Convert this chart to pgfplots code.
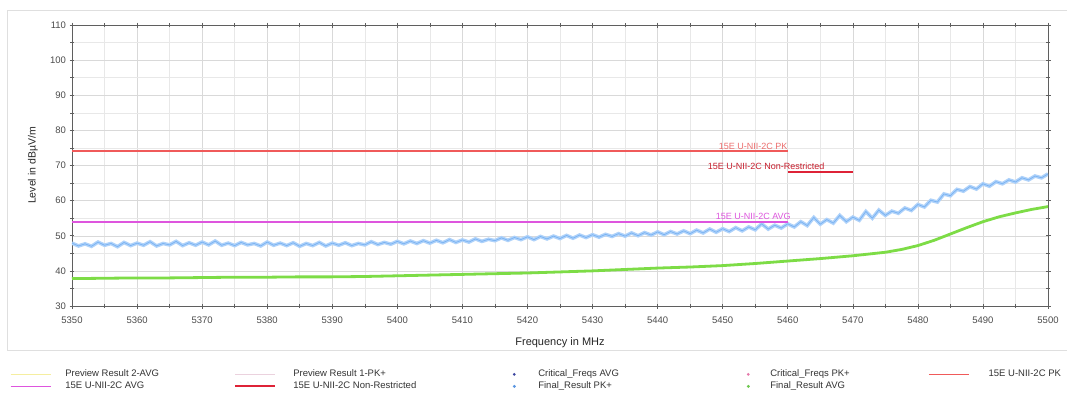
\documentclass[border=0pt]{standalone}
\usepackage{fontspec}
\setmainfont{Liberation Sans}
\usepackage{pgfplots}
\pgfplotsset{compat=1.18}
\definecolor{pkred}{RGB}{240,90,90}
\definecolor{pktext}{RGB}{236,110,110}
\definecolor{nrred}{RGB}{222,35,55}
\definecolor{nrtext}{RGB}{200,30,45}
\definecolor{avgmag}{RGB}{222,85,222}
\definecolor{pkblue}{RGB}{120,178,242}
\definecolor{pkbluel}{RGB}{175,210,250}
\definecolor{avggreen}{RGB}{125,220,70}
\definecolor{pvyellow}{RGB}{245,238,160}
\definecolor{pvpink}{RGB}{235,210,222}
\definecolor{critblue}{RGB}{60,70,160}
\definecolor{critpink}{RGB}{230,120,170}
\definecolor{dotblue}{RGB}{90,150,225}
\definecolor{dotgreen}{RGB}{110,200,80}
\definecolor{axgray}{RGB}{95,95,95}

\pgfplotstableread{
x y
5350 47.9
5351 47.1
5352 47.7
5353 47.0
5354 48.2
5355 47.3
5356 47.8
5357 46.9
5358 48.1
5359 47.2
5360 47.9
5361 47.3
5362 48.3
5363 47.1
5364 47.8
5365 47.4
5366 48.4
5367 47.2
5368 48.0
5369 47.3
5370 48.2
5371 47.4
5372 48.5
5373 47.3
5374 47.9
5375 47.2
5376 48.1
5377 47.4
5378 47.8
5379 47.1
5380 48.2
5381 47.3
5382 47.9
5383 47.2
5384 48.0
5385 47.0
5386 47.8
5387 47.2
5388 48.1
5389 47.1
5390 47.9
5391 47.3
5392 48.0
5393 47.2
5394 47.8
5395 47.4
5396 48.3
5397 47.5
5398 48.1
5399 47.6
5400 48.4
5401 47.7
5402 48.5
5403 47.8
5404 48.6
5405 47.9
5406 48.7
5407 48.0
5408 48.9
5409 48.1
5410 48.8
5411 48.2
5412 49.1
5413 48.4
5414 49.0
5415 48.6
5416 49.4
5417 48.7
5418 49.5
5419 48.9
5420 49.7
5421 48.9
5422 49.8
5423 49.1
5424 49.9
5425 49.2
5426 50.1
5427 49.3
5428 50.2
5429 49.5
5430 50.3
5431 49.6
5432 50.4
5433 49.8
5434 50.6
5435 49.9
5436 50.8
5437 50.0
5438 50.9
5439 50.2
5440 51.1
5441 50.3
5442 51.2
5443 50.5
5444 51.4
5445 50.6
5446 51.6
5447 50.8
5448 51.9
5449 51.0
5450 52.0
5451 51.2
5452 52.3
5453 51.4
5454 52.5
5455 51.7
5456 53.4
5457 51.9
5458 53.0
5459 52.2
5460 53.4
5461 52.5
5462 54.0
5463 52.9
5464 55.2
5465 53.3
5466 54.6
5467 53.6
5468 55.8
5469 54.0
5470 55.3
5471 54.4
5472 56.9
5473 55.0
5474 57.3
5475 55.8
5476 57.0
5477 56.4
5478 57.9
5479 57.2
5480 58.9
5481 58.2
5482 60.1
5483 59.6
5484 61.9
5485 61.4
5486 63.2
5487 62.7
5488 64.0
5489 63.3
5490 64.8
5491 64.1
5492 65.4
5493 64.8
5494 65.9
5495 65.3
5496 66.5
5497 65.9
5498 67.0
5499 66.5
5500 67.6
}\pkdata

\pgfplotstableread{
x y
5350 37.8
5355 37.9
5360 38.0
5365 38.0
5370 38.1
5375 38.2
5380 38.2
5385 38.3
5390 38.3
5395 38.4
5400 38.6
5405 38.8
5410 39.0
5415 39.2
5420 39.4
5425 39.7
5430 40.0
5435 40.4
5440 40.8
5445 41.1
5450 41.5
5455 42.1
5460 42.8
5465 43.5
5470 44.3
5475 45.3
5477.5 46.1
5480 47.2
5482.5 48.7
5485 50.5
5487.5 52.3
5490 54.0
5492.5 55.4
5495 56.5
5497.5 57.5
5500 58.3
}\avgdata

\pgfplotstableread{
x y
5350 74
5460 74
}\pklim
\pgfplotstableread{
x y
5350 54
5460 54
}\avglim
\pgfplotstableread{
x y
5460 68.2
5470 68.2
}\nrlim

\begin{document}
\begin{tikzpicture}
\useasboundingbox (-72pt,-88pt) rectangle (995pt,306pt);
\fill[white] (-72pt,-88pt) rectangle (995pt,306pt);
\draw[gray!25, line width=1pt] (-64pt,-44pt) rectangle (1005pt,295pt);
\begin{axis}[
  at={(0pt,0pt)}, anchor=south west,
  scale only axis, width=976pt, height=281pt,
  xmin=5350, xmax=5500, ymin=30, ymax=110,
  xtick={5350,5360,...,5500}, minor x tick num=1,
  ytick={30,40,...,110}, minor y tick num=1,
  grid=both,
  major grid style={gray!30, line width=0.5pt},
  minor grid style={gray!18, line width=0.5pt},
  axis line style={axgray, line width=0.8pt},
  tick style={axgray, line width=0.6pt},
  tick align=center,
  major tick length=5pt, minor tick length=4pt,
  /pgf/number format/assume math mode=true,
  /pgf/number format/1000 sep={},
  tick label style={font=\fontsize{9.5}{11}\selectfont, text=black!70},
  xticklabel style={yshift=-5pt},
  xlabel={Frequency in MHz},
  ylabel={Level in dBµV/m},
  xlabel style={font=\fontsize{11}{13}\selectfont, text=black!85, at={(axis description cs:0.5,0)}, anchor=center, yshift=-37pt},
  ylabel style={font=\fontsize{10.5}{12}\selectfont, text=black!85, at={(axis description cs:0,0.5)}, anchor=center, yshift=39pt},
  legend columns=5,
  legend style={
    at={(axis description cs:-0.0635,-0.222)}, anchor=north west,
    draw=none, fill=none, inner sep=0pt, outer sep=0pt,
    column sep=0pt, row sep=0pt,
    font=\fontsize{9.5}{11}\selectfont,
    nodes={inner sep=0pt, text height=8.5pt, text depth=3.5pt, text=black!80},
  },
  legend cell align=left,
]
% legend-only images
\addlegendimage{legend image code/.code={\draw[draw=pvyellow, line width=1.3pt] (0pt,0pt) -- (40pt,0pt);}}
\addlegendentry{\makebox[183pt][l]{\hspace*{14pt}Preview Result 2-AVG}}
\addlegendimage{legend image code/.code={\draw[draw=pvpink, line width=1.3pt] (0pt,0pt) -- (40pt,0pt);}}
\addlegendentry{\makebox[218pt][l]{\hspace*{17pt}Preview Result 1-PK+}}
\addlegendimage{legend image code/.code={\path[draw=none] (0pt,0pt) -- (40pt,0pt); \fill[fill=critblue, draw=none] (20pt,0pt) circle (1.5pt);}}
\addlegendentry{\makebox[194pt][l]{\hspace*{4pt}Critical\_Freqs AVG}}
\addlegendimage{legend image code/.code={\path[draw=none] (0pt,0pt) -- (40pt,0pt); \fill[fill=critpink, draw=none] (20pt,0pt) circle (1.5pt);}}
\addlegendentry{\makebox[160pt][l]{\hspace*{2pt}Critical\_Freqs PK+}}
\addlegendimage{legend image code/.code={\draw[draw=pkred, line width=1.3pt] (0pt,0pt) -- (40pt,0pt);}}
\addlegendentry{\makebox[100pt][l]{\hspace*{19pt}15E U-NII-2C PK}}
\addlegendimage{legend image code/.code={\draw[draw=avgmag, line width=1.3pt] (0pt,0pt) -- (40pt,0pt);}}
\addlegendentry{\makebox[183pt][l]{\hspace*{14pt}15E U-NII-2C AVG}}
\addlegendimage{legend image code/.code={\draw[draw=nrred, line width=2pt] (0pt,0pt) -- (40pt,0pt);}}
\addlegendentry{\makebox[218pt][l]{\hspace*{17pt}15E U-NII-2C Non-Restricted}}
\addlegendimage{legend image code/.code={\path[draw=none] (0pt,0pt) -- (40pt,0pt); \fill[fill=dotblue, draw=none] (20pt,0pt) circle (1.6pt);}}
\addlegendentry{\makebox[194pt][l]{\hspace*{4pt}Final\_Result PK+}}
\addlegendimage{legend image code/.code={\path[draw=none] (0pt,0pt) -- (40pt,0pt); \fill[fill=dotgreen, draw=none] (20pt,0pt) circle (1.6pt);}}
\addlegendentry{\makebox[160pt][l]{\hspace*{2pt}Final\_Result AVG}}

% data
\addplot[forget plot, draw=pkbluel, line width=3.6pt, no markers] table[x=x,y=y] {\pkdata};
\addplot[forget plot, draw=pkblue, line width=0.7pt, no markers] table[x=x,y=y] {\pkdata};
\addplot[forget plot, draw=avggreen, line width=2.8pt, no markers] table[x=x,y=y] {\avgdata};
\addplot[forget plot, draw=pkred, line width=2pt, no markers] table[x=x,y=y] {\pklim};
\addplot[forget plot, draw=avgmag, line width=2pt, no markers] table[x=x,y=y] {\avglim};
\addplot[forget plot, draw=nrred, line width=2pt, no markers] table[x=x,y=y] {\nrlim};
\node[anchor=south east, inner sep=2pt, text=pktext, font=\fontsize{9}{10}\selectfont] at (axis cs:5460.3,74) {15E U-NII-2C PK};
\node[anchor=south west, inner sep=2pt, text=nrtext, font=\fontsize{9}{10}\selectfont] at (axis cs:5447.4,68.2) {15E U-NII-2C Non-Restricted};
\node[anchor=south east, inner sep=2pt, text=avgmag, font=\fontsize{9}{10}\selectfont] at (axis cs:5460.8,54) {15E U-NII-2C AVG};
\end{axis}
\end{tikzpicture}
\end{document}
